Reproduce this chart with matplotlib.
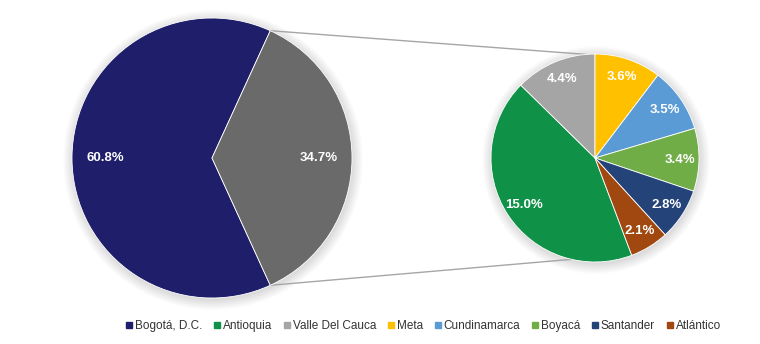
import matplotlib
matplotlib.use('Agg')
import numpy as np
import matplotlib.pyplot as plt
from matplotlib.patches import Patch, Circle

plt.rcParams['font.family'] = ['Liberation Sans', 'DejaVu Sans']

# participacion por departamento (%)
principal = ['Bogotá, D.C.', 'Resto']
principal_val = [60.8, 34.7]
principal_col = ['#1e1e6a', '#6a6a6a']

deptos = ['Antioquia', 'Valle Del Cauca', 'Meta', 'Cundinamarca', 'Boyacá', 'Santander', 'Atlántico']
deptos_val = [15.0, 4.4, 3.6, 3.5, 3.4, 2.8, 2.1]
deptos_col = ['#0f9147', '#a5a5a5', '#ffc000', '#5b9bd5', '#70ad47', '#234379', '#a0480f']

fig = plt.figure(figsize=(7.6, 3.44), dpi=100)
ax = fig.add_axes([0, 0, 1, 1])

c1, r1 = (212, 186), 140
c2, r2 = (595, 186), 104

# sombra suave
for (cx, cy), r in [(c1, r1), (c2, r2)]:
    for k in range(12):
        ax.add_patch(Circle((cx + 1, cy - 2), r + k * 0.9, color='#000000', alpha=0.012, lw=0, zorder=0))

w1, t1 = ax.pie(principal_val, colors=principal_col, startangle=65.4, counterclock=True,
                center=c1, radius=r1, labels=[f'{v:.1f}%' for v in principal_val],
                labeldistance=0.76, frame=True,
                wedgeprops=dict(linewidth=0.6, edgecolor='white'),
                textprops=dict(color='white', fontsize=9.5, fontweight='bold', ha='center', va='center'))

ini = 90 + 360 * (deptos_val[0] + deptos_val[1]) / sum(deptos_val)
w2, t2 = ax.pie(deptos_val, colors=deptos_col, startangle=ini, counterclock=False,
                center=c2, radius=r2, labels=[f'{v:.1f}%' for v in deptos_val],
                labeldistance=0.82, frame=True,
                wedgeprops=dict(linewidth=0.6, edgecolor='white'),
                textprops=dict(color='white', fontsize=9.5, fontweight='bold', ha='center', va='center'))
for t in t1 + t2:
    t.set_ha('center')

# lineas de conexion entre las dos tortas
g = w1[1]
a_top, a_bot = np.deg2rad(g.theta2), np.deg2rad(g.theta1)
p1 = (c1[0] + r1 * np.cos(a_top), c1[1] + r1 * np.sin(a_top))
p2 = (c1[0] + r1 * np.cos(a_bot), c1[1] + r1 * np.sin(a_bot))
q1 = (c2[0] + r2 * np.cos(np.deg2rad(95)), c2[1] + r2 * np.sin(np.deg2rad(95)))
q2 = (c2[0] + r2 * np.cos(np.deg2rad(-103)), c2[1] + r2 * np.sin(np.deg2rad(-103)))
ax.plot([p1[0], q1[0]], [p1[1], q1[1]], color='#a6a6a6', lw=1, zorder=0.5)
ax.plot([p2[0], q2[0]], [p2[1], q2[1]], color='#a6a6a6', lw=1, zorder=0.5)

ax.set_xlim(0, 760)
ax.set_ylim(0, 344)
ax.set_aspect('equal')
ax.axis('off')

handles = [Patch(color=principal_col[0], label=principal[0])]
handles += [Patch(color=c, label=n) for n, c in zip(deptos, deptos_col)]
fig.legend(handles=handles, loc='center', bbox_to_anchor=(0.557, 0.052), ncol=8, frameon=False,
           fontsize=8.5, handlelength=0.5, handleheight=0.5, handletextpad=0.25,
           columnspacing=1.0, labelcolor='#333333')

fig.savefig('out.png', dpi=100, facecolor='white')
